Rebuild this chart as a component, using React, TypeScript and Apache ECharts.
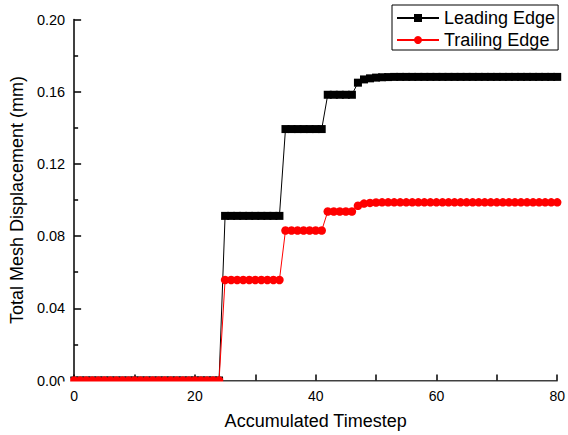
import React, { useEffect, useRef } from "react";
import * as echarts from "echarts";

const timesteps: number[] = [
  0, 1, 2, 3, 4, 5, 6, 7, 8, 9, 10, 11, 12, 13, 14, 15, 16, 17, 18, 19, 20,
  21, 22, 23, 24, 25, 26, 27, 28, 29, 30, 31, 32, 33, 34, 35, 36, 37, 38, 39,
  40, 41, 42, 43, 44, 45, 46, 47, 48, 49, 50, 51, 52, 53, 54, 55, 56, 57, 58,
  59, 60, 61, 62, 63, 64, 65, 66, 67, 68, 69, 70, 71, 72, 73, 74, 75, 76, 77,
  78, 79, 80,
];

const leadingEdge: number[] = [
  0, 0, 0, 0, 0, 0, 0, 0, 0, 0, 0, 0, 0, 0, 0, 0, 0, 0, 0, 0, 0, 0, 0, 0, 0,
  0.0912, 0.0912, 0.0912, 0.0912, 0.0912, 0.0912, 0.0912, 0.0912, 0.0912, 0.0912,
  0.1393, 0.1393, 0.1393, 0.1393, 0.1393, 0.1393, 0.1393,
  0.1583, 0.1583, 0.1583, 0.1583, 0.1583,
  0.165, 0.1668, 0.1674, 0.1678, 0.168, 0.1681,
  0.1682, 0.1682, 0.1682, 0.1682, 0.1682, 0.1682, 0.1682, 0.1682, 0.1682, 0.1682,
  0.1682, 0.1682, 0.1682, 0.1682, 0.1682, 0.1682, 0.1682, 0.1682, 0.1682, 0.1682,
  0.1682, 0.1682, 0.1682, 0.1682, 0.1682, 0.1682, 0.1682, 0.1682,
];

const trailingEdge: number[] = [
  0, 0, 0, 0, 0, 0, 0, 0, 0, 0, 0, 0, 0, 0, 0, 0, 0, 0, 0, 0, 0, 0, 0, 0, 0,
  0.0557, 0.0557, 0.0557, 0.0557, 0.0557, 0.0557, 0.0557, 0.0557, 0.0557, 0.0557,
  0.0831, 0.0831, 0.0831, 0.0831, 0.0831, 0.0831, 0.0831,
  0.0936, 0.0936, 0.0936, 0.0936, 0.0936,
  0.0968, 0.098, 0.0984, 0.0986,
  0.0987, 0.0987, 0.0987, 0.0987, 0.0987, 0.0987, 0.0987, 0.0987, 0.0987, 0.0987,
  0.0987, 0.0987, 0.0987, 0.0987, 0.0987, 0.0987, 0.0987, 0.0987, 0.0987, 0.0987,
  0.0987, 0.0987, 0.0987, 0.0987, 0.0987, 0.0987, 0.0987, 0.0987, 0.0987, 0.0987,
];

const seriesNames = ["Leading Edge", "Trailing Edge"];
const xTicks = { min: 0, max: 80, interval: 20 };
const yTicks = { min: 0, max: 0.2, interval: 0.04 };

const FONT = "'Liberation Sans', Arial, sans-serif";

export default function App() {
  const ref = useRef<HTMLDivElement>(null);

  useEffect(() => {
    if (!ref.current) return;
    const chart = echarts.init(ref.current, null, { renderer: "svg" });
    const axisLineStyle = { color: "#000", width: 1.5 };
    const lead = timesteps.map((t, i) => [t, leadingEdge[i]]);
    const trail = timesteps.map((t, i) => [t, trailingEdge[i]]);
    chart.setOption({
      animation: false,
      backgroundColor: "#fff",
      textStyle: { fontFamily: FONT, color: "#000" },
      grid: { left: 71, right: 7, top: 19.5, bottom: 54.5, containLabel: false },
      legend: {
        orient: "vertical",
        left: 392,
        top: 5,
        itemWidth: 42,
        itemHeight: 10,
        itemGap: 4,
        padding: [4, 3, 1, 4],
        borderColor: "#000",
        borderWidth: 1,
        borderRadius: 0,
        textStyle: { fontSize: 18, lineHeight: 18, fontFamily: FONT, color: "#000" },
        data: seriesNames,
      },
      xAxis: {
        type: "value",
        min: xTicks.min,
        max: xTicks.max,
        interval: xTicks.interval,
        name: "Accumulated Timestep",
        nameLocation: "middle",
        nameGap: 31,
        nameTextStyle: { fontSize: 18, fontFamily: FONT, color: "#000" },
        axisLine: { lineStyle: axisLineStyle },
        axisTick: { inside: true, length: 6, lineStyle: axisLineStyle },
        minorTick: { show: true, splitNumber: 2, length: 6, lineStyle: { color: "#000", width: 1.5 } },
        splitLine: { show: false },
        minorSplitLine: { show: false },
        axisLabel: { fontSize: 14, color: "#000", margin: 8, fontFamily: FONT },
      },
      yAxis: {
        type: "value",
        min: yTicks.min,
        max: yTicks.max,
        interval: yTicks.interval,
        name: "Total Mesh Displacement (mm)",
        nameLocation: "middle",
        nameGap: 44,
        nameTextStyle: { fontSize: 18, fontFamily: FONT, color: "#000" },
        axisLine: { show: true, lineStyle: axisLineStyle },
        axisTick: { show: true, inside: true, length: 7, lineStyle: axisLineStyle },
        minorTick: { show: true, splitNumber: 2, length: 4, lineStyle: { color: "#000", width: 1.5 } },
        splitLine: { show: false },
        minorSplitLine: { show: false },
        axisLabel: {
          fontSize: 14.5,
          color: "#000",
          margin: 9,
          fontFamily: FONT,
          formatter: (v: number) => v.toFixed(2),
        },
      },
      graphic: [
        { type: "rect", z: 100, silent: true, shape: { x: 66.5, y: 10, width: 3.7, height: 380 }, style: { fill: "#fff" } },
        { type: "rect", z: 100, silent: true, shape: { x: 60, y: 381.5, width: 508, height: 5.5 }, style: { fill: "#fff" } },
        { type: "rect", z: 100, silent: true, shape: { x: 562, y: 60, width: 6, height: 330 }, style: { fill: "#fff" } },
      ],
      series: [
        {
          name: seriesNames[0],
          type: "line",
          data: lead,
          symbol: "rect",
          symbolSize: 8,
          showAllSymbol: true,
          color: "#000",
          itemStyle: { color: "#000" },
          lineStyle: { color: "#000", width: 1 },
          clip: false,
          z: 2,
        },
        {
          name: seriesNames[1],
          type: "line",
          data: trail,
          symbol: "circle",
          symbolSize: 8.5,
          showAllSymbol: true,
          color: "#ff0000",
          itemStyle: { color: "#ff0000" },
          lineStyle: { color: "#ff0000", width: 1 },
          clip: false,
          z: 3,
        },
      ],
    });
    return () => chart.dispose();
  }, []);

  return (
    <div
      ref={ref}
      style={{ position: "fixed", left: 0, top: 0, width: 568, height: 435, background: "#fff" }}
    />
  );
}
